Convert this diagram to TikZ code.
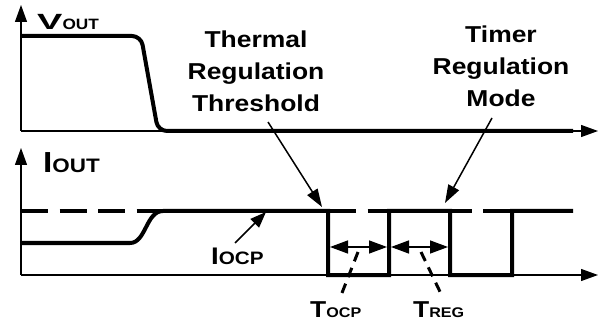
\documentclass[tikz,border=0pt]{standalone}
\usepackage{fontspec}
\newfontfamily\hv{Liberation Sans Bold}[FakeStretch=1.15]
\usetikzlibrary{arrows.meta}
\tikzset{
  axisline/.style={line width=1.3pt, -{Triangle[length=17pt,width=12pt]}},
  wave/.style={line width=4pt, line join=miter},
  levelline/.style={line width=3.5pt, dash pattern=on 27pt off 11.5pt},
  pointer/.style={line width=1.5pt, -{Triangle[length=18pt,width=12pt]}},
  span/.style={line width=1.5pt, {Triangle[length=18pt,width=13pt]}-{Triangle[length=18pt,width=13pt]}},
  leader/.style={line width=3pt, dash pattern=on 10pt off 7pt},
  big/.style={font=\hv\fontsize{23}{32}\selectfont, align=center, inner sep=0pt},
  lab/.style={inner sep=0pt, anchor=base west, font=\hv}
}
\begin{document}
\begin{tikzpicture}[x=1pt,y=-1pt]
\useasboundingbox (0,0) rectangle (603,334);
% axes
\coordinate (o1) at (21,131);
\coordinate (y1) at (21,5);
\coordinate (x1) at (598,131);
\coordinate (o2) at (21,275);
\coordinate (y2) at (21,148);
\coordinate (x2) at (598,275);
\draw[axisline] (o1) -- (y1);
\draw[axisline] (o1) -- (x1);
\draw[axisline] (o2) -- (y2);
\draw[axisline] (o2) -- (x2);
% Vout waveform
\draw[wave, rounded corners=9pt] (21,36) -- (141,36) -- (158,131) -- (573,131);
% Iocp level
\draw[levelline] (21,211) -- (573,211);
% Iout waveform
\draw[wave] (21,243) -- (130,243) .. controls (146,243) and (146,211) .. (163,211)
  -- (328,211) -- (328,275) -- (389,275) -- (389,211) -- (450,211) -- (450,275)
  -- (512,275) -- (512,211) -- (573,211);
% labels
\node[lab] (vout) at (37,30) {\fontsize{22}{22}\selectfont\scalebox{1.5}[1]{V}\fontsize{15}{15}\selectfont OUT};
\node[lab] (iout) at (43,173) {\fontsize{29}{29}\selectfont I\fontsize{19.5}{19.5}\selectfont OUT};
\node[lab] (iocp) at (211,264) {\fontsize{24}{24}\selectfont I\fontsize{18}{18}\selectfont OCP};
\node[lab] (tocp) at (310,317) {\fontsize{23}{23}\selectfont T\fontsize{14}{14}\selectfont OCP};
\node[lab] (treg) at (413,317) {\fontsize{23}{23}\selectfont T\fontsize{14}{14}\selectfont REG};
\node[big, anchor=north] (thermal) at (256,31) {Thermal\\Regulation\\Threshold};
\node[big, anchor=north] (timer) at (501,26) {Timer\\Regulation\\Mode};
% pointers
\coordinate (thA) at (268,122);
\coordinate (thB) at (322,207);
\draw[pointer] (thA) -- (thB);
\coordinate (tmA) at (492,118);
\coordinate (tmB) at (445,203);
\draw[pointer] (tmA) -- (tmB);
\coordinate (ocA) at (235,243);
\coordinate (ocB) at (266,212);
\draw[pointer, -{Triangle[length=16pt,width=12pt]}] (ocA) -- (ocB);
% spans
\coordinate (s1a) at (330,247);
\coordinate (s1b) at (387,247);
\coordinate (s2a) at (391,247);
\coordinate (s2b) at (448,247);
\draw[span] (s1a) -- (s1b);
\draw[span] (s2a) -- (s2b);
% leaders
\coordinate (l1a) at (358,252);
\coordinate (l1b) at (340,298);
\coordinate (l2a) at (421,252);
\coordinate (l2b) at (443,298);
\draw[leader] (l1a) -- (l1b);
\draw[leader] (l2a) -- (l2b);
\end{tikzpicture}
\end{document}
